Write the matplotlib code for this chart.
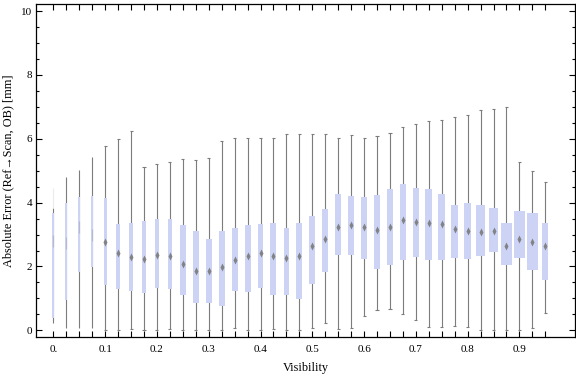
import matplotlib
matplotlib.use("Agg")
from matplotlib import pyplot as plt

# box-whisker values, one entry per visibility bin
visibility = [0.0, 0.025, 0.05, 0.075, 0.1, 0.125, 0.15, 0.175, 0.2, 0.225,
              0.25, 0.275, 0.3, 0.325, 0.35, 0.375, 0.4, 0.425, 0.45, 0.475,
              0.5, 0.525, 0.55, 0.575, 0.6, 0.625, 0.65, 0.675, 0.7, 0.725,
              0.75, 0.775, 0.8, 0.825, 0.85, 0.875, 0.9, 0.925, 0.95]
whisker_lo = [0.24, 0.06, 0.06, 0.06, 0.01, 0.01, 0.04, 0.01, 0.01, 0.04,
              0.01, 0.01, 0.01, 0.01, 0.06, 0.01, 0.01, 0.03, 0.01, 0.01,
              0.08, 0.22, 0.03, 0.08, 0.44, 0.64, 0.66, 0.50, 0.31, 0.10,
              0.10, 0.13, 0.10, 0.01, 0.01, 0.01, 0.01, 0.06, 0.53]
q1 = [0.38, 0.95, 1.84, 1.99, 1.43, 1.30, 1.23, 1.18, 1.34, 1.29,
      1.09, 0.87, 0.87, 0.77, 1.24, 1.21, 1.32, 1.12, 1.12, 0.99,
      1.44, 1.83, 2.37, 2.37, 2.24, 1.92, 2.06, 2.21, 2.31, 2.21,
      2.21, 2.28, 2.24, 2.34, 2.46, 2.06, 2.28, 1.89, 1.59]
median = [2.80, 2.75, 3.25, 3.00, 2.78, 2.41, 2.31, 2.23, 2.36, 2.33,
          2.08, 1.85, 1.85, 1.99, 2.21, 2.34, 2.41, 2.33, 2.26, 2.33,
          2.64, 2.85, 3.23, 3.30, 3.23, 3.15, 3.25, 3.47, 3.39, 3.35,
          3.33, 3.18, 3.12, 3.08, 3.12, 2.64, 2.85, 2.76, 2.63]
q3 = [3.67, 3.98, 4.17, 4.21, 4.14, 3.33, 3.36, 3.43, 3.49, 3.49,
      3.30, 3.11, 2.86, 3.11, 3.22, 3.30, 3.33, 3.36, 3.22, 3.36,
      3.58, 3.80, 4.26, 4.20, 4.17, 4.23, 4.42, 4.59, 4.46, 4.42,
      4.27, 3.93, 3.99, 3.93, 3.83, 3.36, 3.74, 3.68, 3.36]
whisker_hi = [3.82, 4.80, 5.02, 5.44, 5.76, 5.99, 6.26, 5.11, 5.20, 5.27,
              5.36, 5.33, 5.39, 5.92, 6.04, 6.04, 6.01, 6.01, 6.16, 6.14,
              6.16, 6.14, 6.04, 6.11, 6.04, 6.08, 6.18, 6.38, 6.46, 6.55,
              6.58, 6.68, 6.74, 6.90, 6.93, 6.99, 5.27, 4.98, 4.64]
# relative box weight (box width follows it)
weight = [0.33, 0.33, 0.33, 0.33, 0.5, 0.55, 0.55, 0.72, 0.67, 0.67,
          1.0, 1.0, 1.0, 1.0, 1.0, 1.0, 0.9, 1.0, 0.9, 1.0,
          1.0, 1.0, 1.0, 1.0, 1.0, 1.0, 1.0, 1.0, 1.05, 1.15,
          1.15, 1.2, 1.15, 1.5, 1.5, 1.85, 1.85, 1.85, 1.0]
faint_top = 4.45  # very light extension above the first whisker

x_ticks = [0.0, 0.1, 0.2, 0.3, 0.4, 0.5, 0.6, 0.7, 0.8, 0.9]
x_labels = ["0.", "0.1", "0.2", "0.3", "0.4", "0.5", "0.6", "0.7", "0.8", "0.9"]
y_ticks = [0, 2, 4, 6, 8, 10]

serif = ['Liberation Serif', 'DejaVu Serif']
box_color = '#ccd3f5'
line_color = '#7c7c7c'

fig = plt.figure(figsize=(5.76, 3.77), dpi=100)
ax = fig.add_axes([0.063, 0.107, 0.935, 0.882])

base_width = 0.0116
cap_half = 0.003

# whiskers first, then boxes on top, then the median diamonds
ax.vlines(visibility, whisker_lo, whisker_hi, color=line_color, lw=0.8, zorder=1)
ax.vlines(visibility[0], whisker_hi[0], faint_top, color='#ebebeb', lw=0.8, zorder=1)
for x, lo, hi, w in zip(visibility, whisker_lo, whisker_hi, weight):
    if w < 0.4:
        continue
    ax.hlines([lo, hi], x - cap_half, x + cap_half, color=line_color, lw=0.8, zorder=1)

widths = [base_width * w for w in weight]
heights = [b - a for a, b in zip(q1, q3)]
ax.bar(visibility, heights, bottom=q1, width=widths, color=box_color,
       edgecolor='none', zorder=2)

for x, m, w in zip(visibility, median, weight):
    if w < 0.4:
        # the thin boxes only show a faint grey streak at the median
        ax.plot(x, m, marker='|', ms=9, mew=0.9, color='#808080', alpha=0.3, zorder=3)
    else:
        ax.plot(x, m, marker='d', ms=4.0, color='#7a7a7a', mec='none', alpha=0.9, zorder=3)

ax.set_xlim(-0.033, 1.007)
ax.set_ylim(-0.2, 10.22)

ax.set_xticks(x_ticks, x_labels)
ax.set_xticks(visibility, minor=True)
ax.set_yticks(y_ticks)
ax.set_yticks([v * 0.5 for v in range(21)], minor=True)
ax.tick_params(which='both', direction='in', top=True, right=True, width=0.8,
               labelsize=8, colors='black')
ax.tick_params(axis='x', which='both', length=4.5, pad=6)
ax.tick_params(axis='y', which='major', length=4.5, pad=3)
ax.tick_params(axis='y', which='minor', length=2.2)
for lab in ax.get_xticklabels() + ax.get_yticklabels():
    lab.set_family(serif)

for s in ax.spines.values():
    s.set_linewidth(0.9)

ax.set_xlabel("Visibility", family=serif, fontsize=8.8, labelpad=6)
ax.set_ylabel("Absolute Error (Ref\u2192Scan, OB) [mm]", family=serif,
              fontsize=8.8, labelpad=5)

plt.savefig("out.png", dpi=100)
plt.close('all')
